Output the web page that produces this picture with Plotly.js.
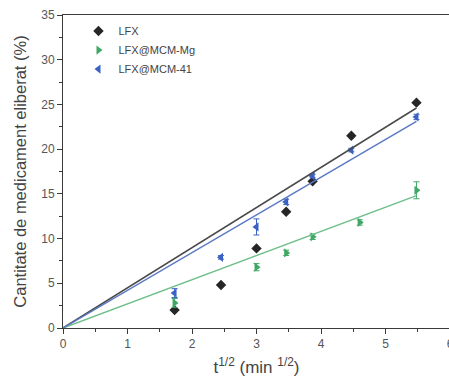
<!DOCTYPE html>
<html>
<head>
<meta charset="utf-8">
<script src="https://cdn.plot.ly/plotly-3.0.1.min.js"></script>
<style>
  html, body { margin: 0; padding: 0; overflow: hidden; background: #fff; }
  #chart { width: 460px; height: 382px; }
</style>
</head>
<body>
<div id="chart"></div>
<script>
// Release of LFX vs square root of time (Higuchi plot)
const lfxX = [1.73, 2.45, 3.0, 3.46, 3.87, 4.47, 5.48];
const lfxY = [2.0, 4.8, 8.9, 13.0, 16.4, 21.5, 25.2];

const mgX = [1.73, 3.0, 3.46, 3.87, 4.6, 5.48];
const mgY = [2.8, 6.8, 8.4, 10.2, 11.8, 15.4];
const mgErr = [0.5, 0.4, 0.3, 0.3, 0.3, 0.95];

const m41X = [1.73, 2.45, 3.0, 3.46, 3.87, 4.47, 5.48];
const m41Y = [3.9, 7.9, 11.3, 14.1, 17.0, 19.9, 23.6];
const m41Err = [0.5, 0.2, 0.9, 0.3, 0.2, 0.2, 0.3];

// linear fits through the origin
const fitX = [0, 5.48];
const lfxFit = [0, 24.6];
const mgFit = [0, 14.8];
const m41Fit = [0, 23.1];

const cBlack = '#262626', cGreen = '#3fa865', cBlue = '#3a62c4';
const font = 'Liberation Sans, Arial, sans-serif';

const traces = [
  { x: lfxX, y: lfxY, name: 'LFX', mode: 'markers', type: 'scatter',
    marker: { symbol: 'diamond', size: 8, color: cBlack } },
  { x: mgX, y: mgY, name: 'LFX@MCM-Mg', mode: 'markers', type: 'scatter',
    marker: { symbol: 'triangle-right', size: 8, color: cGreen },
    error_y: { type: 'data', array: mgErr, color: cGreen, thickness: 1, width: 3 } },
  { x: m41X, y: m41Y, name: 'LFX@MCM-41', mode: 'markers', type: 'scatter',
    marker: { symbol: 'triangle-left', size: 8, color: cBlue },
    error_y: { type: 'data', array: m41Err, color: cBlue, thickness: 1, width: 3 } },
  { x: fitX, y: lfxFit, mode: 'lines', type: 'scatter', showlegend: false,
    line: { color: '#4a4a4a', width: 1.5 }, hoverinfo: 'skip' },
  { x: fitX, y: mgFit, mode: 'lines', type: 'scatter', showlegend: false,
    line: { color: '#6cbf8a', width: 1.5 }, hoverinfo: 'skip' },
  { x: fitX, y: m41Fit, mode: 'lines', type: 'scatter', showlegend: false,
    line: { color: '#5a78c4', width: 1.5 }, hoverinfo: 'skip' }
];

const axisCommon = {
  showgrid: false, zeroline: false, showline: true, mirror: true,
  linecolor: '#3a3a3a', linewidth: 1,
  ticks: 'outside', ticklen: 5, tickcolor: '#3a3a3a', tickwidth: 1,
  tickfont: { family: font, size: 12, color: '#555' }
};

const layout = {
  width: 460, height: 382,
  margin: { l: 63, r: 10, t: 15, b: 54 },
  paper_bgcolor: '#fff', plot_bgcolor: '#fff',
  showlegend: true,
  legend: {
    x: 0.04, y: 0.995, xanchor: 'left', yanchor: 'top',
    bgcolor: 'rgba(0,0,0,0)', borderwidth: 0,
    font: { family: font, size: 11, color: '#444' }
  },
  xaxis: Object.assign({}, axisCommon, {
    range: [0, 6], dtick: 1, tick0: 0,
    minor: { dtick: 0.5, ticks: 'outside', ticklen: 3, tickcolor: '#3a3a3a' },
    title: { text: 't<sup>1/2</sup> (min <sup>1/2</sup>)', standoff: 10,
      font: { family: font, size: 17, color: '#444' } }
  }),
  yaxis: Object.assign({}, axisCommon, {
    range: [0, 35], dtick: 5, tick0: 0,
    minor: { dtick: 2.5, ticks: 'outside', ticklen: 3, tickcolor: '#3a3a3a' },
    title: { text: 'Cantitate de medicament eliberat (%)', standoff: 10,
      font: { family: font, size: 16.5, color: '#444' } }
  })
};

Plotly.newPlot('chart', traces, layout, { displayModeBar: false, staticPlot: true });
</script>
</body>
</html>
